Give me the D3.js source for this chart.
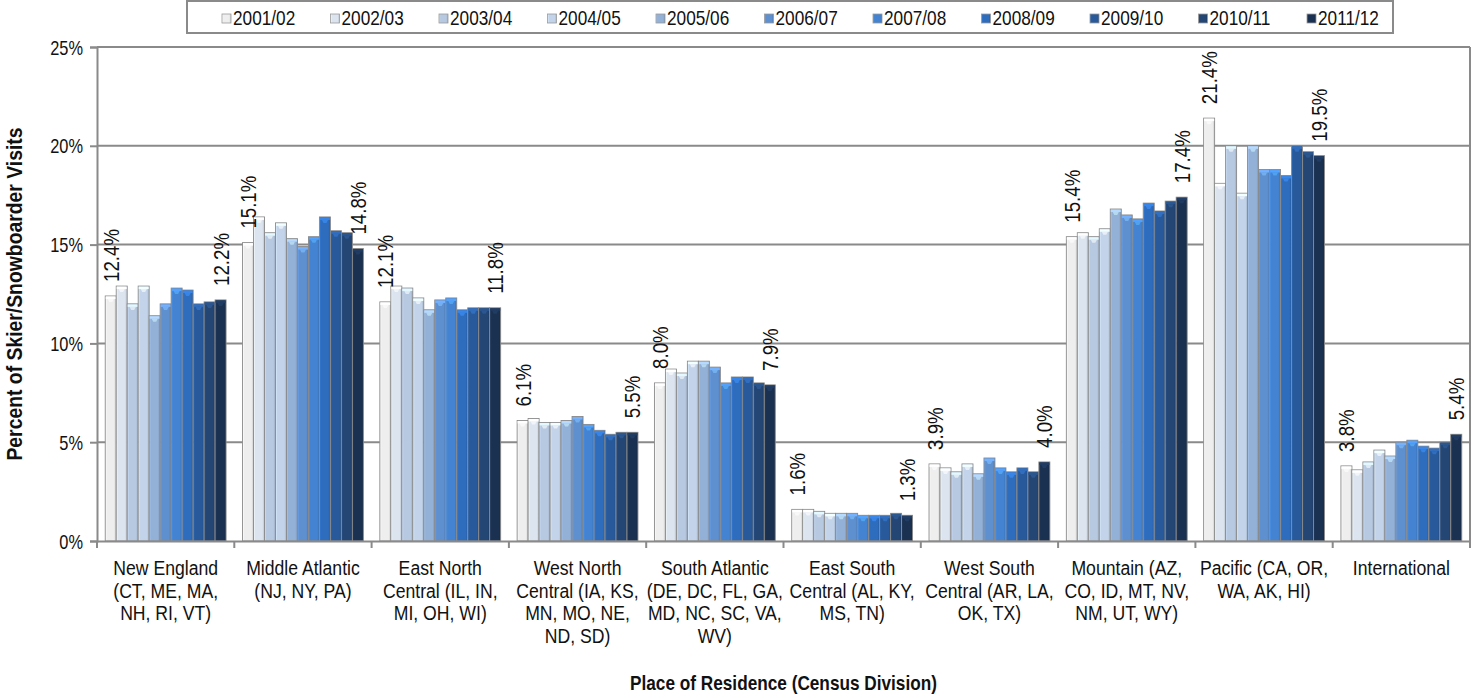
<!DOCTYPE html>
<html>
<head>
<meta charset="utf-8">
<script src="https://cdn.jsdelivr.net/npm/d3@7"></script>
<style>
  html, body { margin: 0; padding: 0; background: #ffffff; }
  svg { display: block; }
  text { font-family: "Liberation Sans", Arial, sans-serif; fill: #111; }
</style>
</head>
<body>
<svg id="chart" width="1474" height="698"></svg>
<script>
// Seasons (series)
const seasons = ["2001/02", "2002/03", "2003/04", "2004/05", "2005/06", "2006/07",
                 "2007/08", "2008/09", "2009/10", "2010/11", "2011/12"];

// Census divisions (categories), split into the lines shown under the axis
const divisionLines = [
  ["New England", "(CT, ME, MA,", "NH, RI, VT)"],
  ["Middle Atlantic", "(NJ, NY, PA)"],
  ["East North", "Central (IL, IN,", "MI, OH, WI)"],
  ["West North", "Central (IA, KS,", "MN, MO, NE,", "ND, SD)"],
  ["South Atlantic", "(DE, DC, FL, GA,", "MD, NC, SC, VA,", "WV)"],
  ["East South", "Central (AL, KY,", "MS, TN)"],
  ["West South", "Central (AR, LA,", "OK, TX)"],
  ["Mountain (AZ,", "CO, ID, MT, NV,", "NM, UT, WY)"],
  ["Pacific (CA, OR,", "WA, AK, HI)"],
  ["International"]
];

// Percent of skier/snowboarder visits by season, one array per division
const newEngland       = [12.4, 12.9, 12.0, 12.9, 11.4, 12.0, 12.8, 12.7, 12.0, 12.1, 12.2];
const middleAtlantic   = [15.1, 16.4, 15.6, 16.1, 15.3, 14.9, 15.4, 16.4, 15.7, 15.6, 14.8];
const eastNorthCentral = [12.1, 12.9, 12.8, 12.3, 11.7, 12.2, 12.3, 11.7, 11.8, 11.8, 11.8];
const westNorthCentral = [6.1, 6.2, 6.0, 6.0, 6.1, 6.3, 5.9, 5.6, 5.4, 5.5, 5.5];
const southAtlantic    = [8.0, 8.7, 8.5, 9.1, 9.1, 8.8, 8.0, 8.3, 8.3, 8.0, 7.9];
const eastSouthCentral = [1.6, 1.6, 1.5, 1.4, 1.4, 1.4, 1.3, 1.3, 1.3, 1.4, 1.3];
const westSouthCentral = [3.9, 3.7, 3.5, 3.9, 3.4, 4.2, 3.7, 3.5, 3.7, 3.5, 4.0];
const mountain         = [15.4, 15.6, 15.4, 15.8, 16.8, 16.5, 16.3, 17.1, 16.7, 17.2, 17.4];
const pacific          = [21.4, 18.1, 20.0, 17.6, 20.0, 18.8, 18.8, 18.5, 20.0, 19.7, 19.5];
const international    = [3.8, 3.6, 4.0, 4.6, 4.3, 5.0, 5.1, 4.8, 4.7, 5.0, 5.4];

const yTicks = [0, 5, 10, 15, 20, 25];

// Season colours, light grey through to dark navy
const seasonColors = ["#eeeeee", "#dbe4ef", "#b7c9e1", "#c3d4ea", "#93b0d6", "#5e8fcf",
                      "#4383d1", "#2e6cbd", "#285a9b", "#234675", "#1b3151"];

const divisionValues = [newEngland, middleAtlantic, eastNorthCentral, westNorthCentral,
  southAtlantic, eastSouthCentral, westSouthCentral, mountain, pacific, international];
const divisions = divisionLines.map(l => l.join(" "));
const table = divisions.map((d, i) => ({
  division: d,
  lines: divisionLines[i],
  values: seasons.map((s, j) => ({ season: s, index: j, value: divisionValues[i][j] }))
}));

// Narrow-face emulation for text: squeeze along the reading direction
const SQ = 0.82;

const svg = d3.select("#chart");
const plot = { left: 97, right: 1470, top: 47, bottom: 541 };

const y = d3.scaleLinear().domain([0, 25]).range([plot.bottom, plot.top]);
const x0 = d3.scaleBand().domain(divisions).range([plot.left, plot.right])
  .paddingInner(0.12).paddingOuter(0.06);
const x1 = d3.scaleBand().domain(seasons).range([0, x0.bandwidth()]).padding(0);

// Gradients giving each bar its bevelled look
const defs = svg.append("defs");
seasonColors.forEach((c, i) => {
  const base = d3.color(c);
  const g = defs.append("linearGradient").attr("id", "bar" + i)
    .attr("x1", "0").attr("x2", "1").attr("y1", "0").attr("y2", "0");
  g.append("stop").attr("offset", "0").attr("stop-color", base.brighter(0.35).formatHex());
  g.append("stop").attr("offset", "0.18").attr("stop-color", base.formatHex());
  g.append("stop").attr("offset", "0.8").attr("stop-color", base.formatHex());
  g.append("stop").attr("offset", "1").attr("stop-color", base.darker(0.45).formatHex());
});

const gridColor = "#8a8a8a";

// Horizontal gridlines
svg.append("g").selectAll("line").data(yTicks.filter(t => t > 0)).join("line")
  .attr("x1", plot.left).attr("x2", plot.right)
  .attr("y1", d => y(d)).attr("y2", d => y(d))
  .attr("stroke", gridColor).attr("stroke-width", 2);

// Right border of the plot area
svg.append("line")
  .attr("x1", plot.right).attr("x2", plot.right)
  .attr("y1", plot.top).attr("y2", plot.bottom)
  .attr("stroke", gridColor).attr("stroke-width", 2);

// Bars
const groups = svg.append("g").selectAll("g").data(table).join("g")
  .attr("transform", d => `translate(${x0(d.division)},0)`);

const bars = groups.selectAll("g.bar").data(d => d.values).join("g").attr("class", "bar");
bars.append("rect")
  .attr("x", d => x1(d.season)).attr("width", x1.bandwidth())
  .attr("y", d => y(d.value)).attr("height", d => y(0) - y(d.value))
  .attr("fill", d => `url(#bar${d.index})`)
  .attr("stroke", "#8a8a8a").attr("stroke-width", 0.9);
// light cap along the top edge
bars.append("rect")
  .attr("x", d => x1(d.season) + 0.5).attr("width", x1.bandwidth() - 1)
  .attr("y", d => y(d.value) + 0.5).attr("height", 2.5)
  .attr("fill", d => d3.color(seasonColors[d.index]).brighter(0.6).formatHex());
// small highlight notch under the cap
bars.append("path")
  .attr("d", d => {
    const cx = x1(d.season) + x1.bandwidth() / 2, t = y(d.value) + 3;
    return `M${cx - 3},${t} L${cx + 3},${t} L${cx + 1.5},${t + 3} L${cx - 1.5},${t + 3} Z`;
  })
  .attr("fill", d => d3.color(seasonColors[d.index]).brighter(0.9).formatHex())
  .attr("opacity", 0.6);

// Value labels on the first and last season of each division
groups.selectAll("text.val")
  .data(d => [d.values[0], d.values[d.values.length - 1]])
  .join("text").attr("class", "val")
  .attr("transform", d => {
    const cx = x1(d.season) + x1.bandwidth() / 2 + 8;
    return `translate(${cx},${y(d.value) - 14}) rotate(-90) scale(0.85,1)`;
  })
  .attr("font-size", 22)
  .text(d => d.value.toFixed(1) + "%");

// Y axis
const yAxis = svg.append("g").attr("transform", `translate(${plot.left},0)`)
  .call(d3.axisLeft(y).tickValues(yTicks).tickFormat(d => d + "%").tickSize(7).tickPadding(0));
yAxis.select(".domain").attr("stroke", gridColor).attr("stroke-width", 2);
yAxis.selectAll(".tick line").attr("stroke", gridColor).attr("stroke-width", 2);
yAxis.selectAll(".tick text")
  .attr("x", 0).attr("dy", null).attr("y", 0)
  .attr("transform", `translate(-14,7) scale(${SQ},1)`)
  .attr("font-size", 20).attr("fill", "#111")
  .style("font-family", "'Liberation Sans', Arial, sans-serif");

// X axis with ticks on the division boundaries
const step = x0.step();
const boundaries = d3.range(divisions.length + 1).map(i => plot.left + i * step);
const xAxis = svg.append("g").attr("transform", `translate(0,${plot.bottom})`)
  .call(d3.axisBottom(x0).tickSize(0).tickFormat(""));
xAxis.select(".domain").attr("stroke", gridColor).attr("stroke-width", 2);
xAxis.selectAll(".tick").remove();
xAxis.selectAll("line.b").data(boundaries).join("line").attr("class", "b")
  .attr("x1", d => d).attr("x2", d => d).attr("y1", 0).attr("y2", 7)
  .attr("stroke", gridColor).attr("stroke-width", 2);

// Division labels
const lab = svg.append("g").selectAll("g").data(table).join("g")
  .attr("transform", d => `translate(${x0(d.division) + x0.bandwidth() / 2},575)`);
lab.selectAll("text").data(d => d.lines).join("text")
  .attr("transform", (d, i) => `translate(0,${i * 22.5}) scale(0.84,1)`)
  .attr("text-anchor", "middle").attr("font-size", 21)
  .text(d => d);

// Axis titles
svg.append("text")
  .attr("transform", `translate(${(plot.left + plot.right) / 2},690) scale(${SQ},1)`)
  .attr("text-anchor", "middle").attr("font-size", 21).attr("font-weight", "bold")
  .text("Place of Residence (Census Division)");
svg.append("text")
  .attr("transform", `translate(22,${(plot.top + plot.bottom) / 2}) rotate(-90) scale(0.88,1)`)
  .attr("text-anchor", "middle").attr("font-size", 22).attr("font-weight", "bold")
  .text("Percent of Skier/Snowboarder Visits");

// Legend
const legend = svg.append("g");
legend.append("rect").attr("x", 187).attr("y", 1).attr("width", 1206).attr("height", 32)
  .attr("fill", "#ffffff").attr("stroke", gridColor).attr("stroke-width", 2);
const lx = d3.scaleBand().domain(seasons).range([222, 222 + 108.5 * seasons.length]);
const items = legend.selectAll("g.item").data(seasons).join("g").attr("class", "item")
  .attr("transform", d => `translate(${lx(d)},0)`);
items.append("rect").attr("x", 0).attr("y", 14).attr("width", 9).attr("height", 9)
  .attr("fill", (d, i) => `url(#bar${i})`).attr("stroke", "#9a9a9a").attr("stroke-width", 0.8);
items.append("text")
  .attr("transform", `translate(11,25) scale(${SQ},1)`)
  .attr("font-size", 21)
  .text(d => d);
</script>
</body>
</html>
